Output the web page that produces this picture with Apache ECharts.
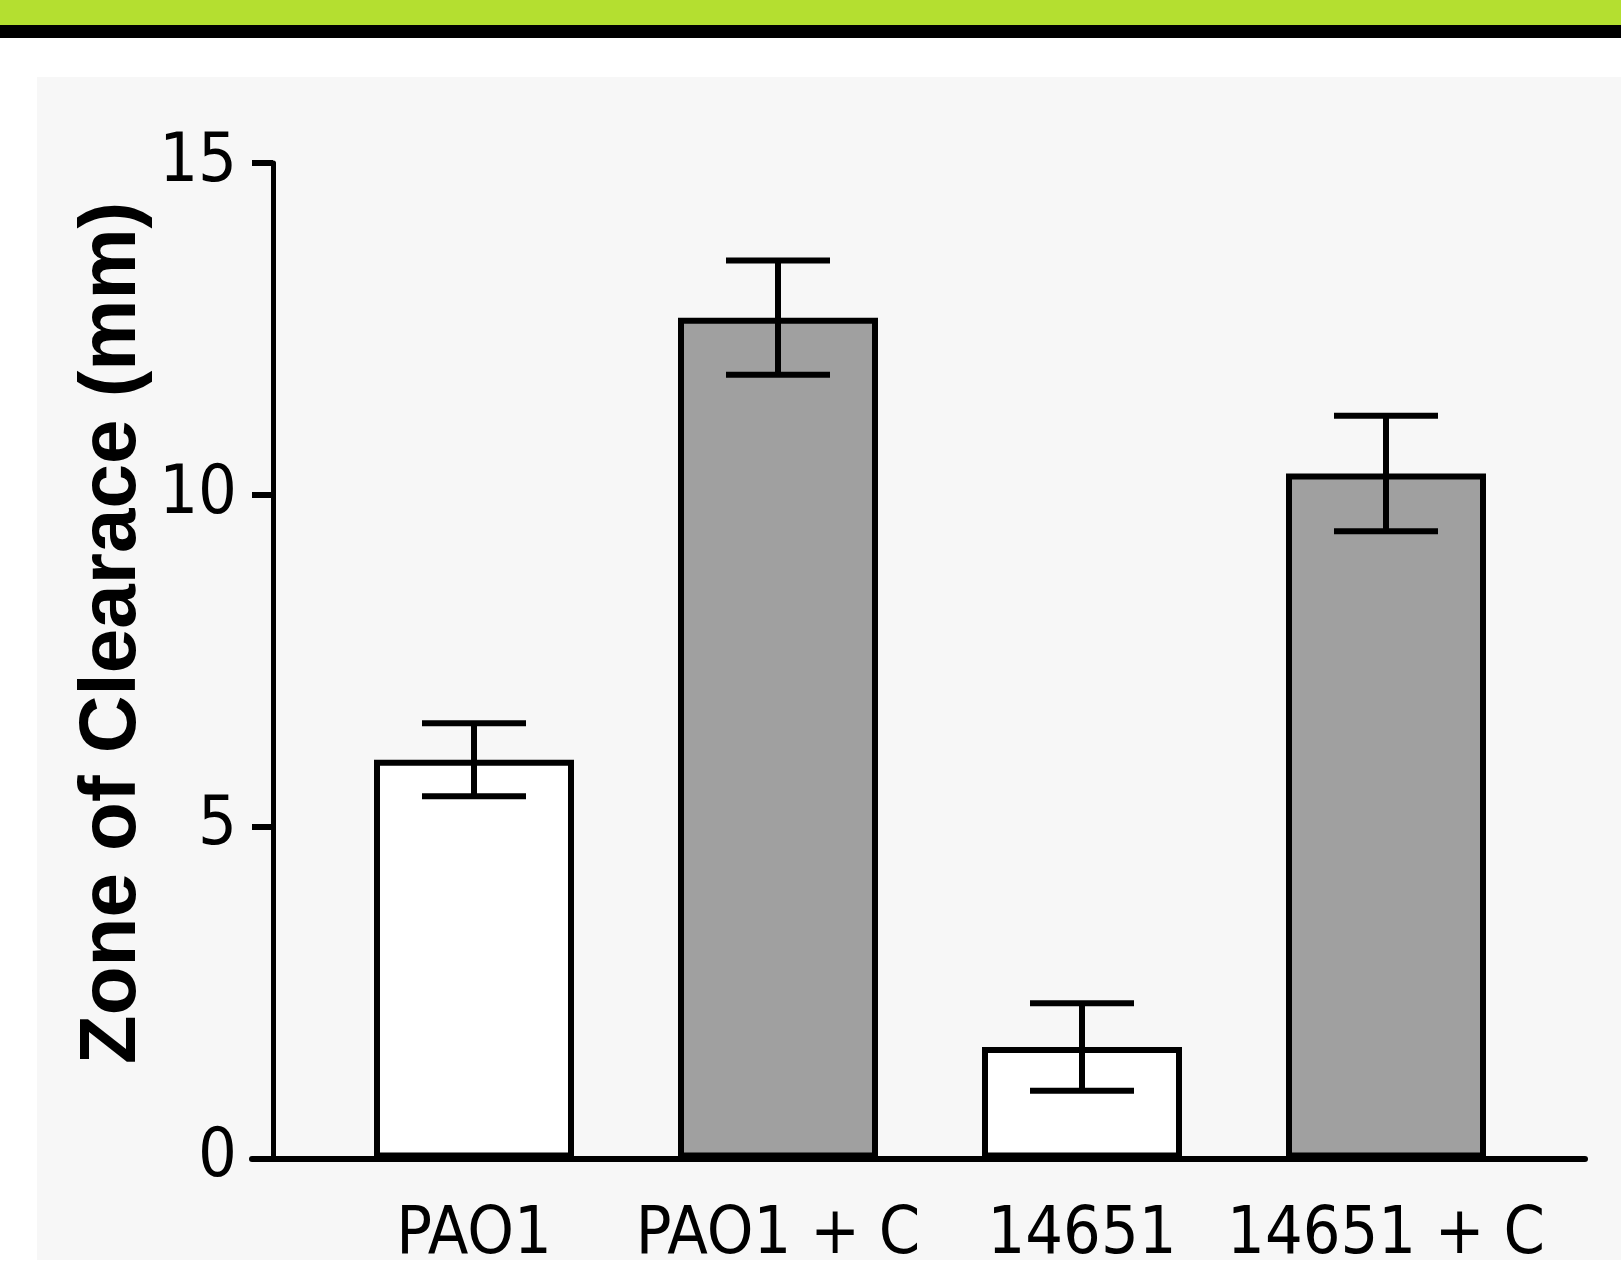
<!DOCTYPE html>
<html>
<head>
<meta charset="utf-8">
<script src="https://cdn.jsdelivr.net/npm/echarts@6/dist/echarts.min.js"></script>
<style>
  html, body { margin: 0; padding: 0; background: #fff; }
  #chart { width: 1621px; height: 1267px; }
</style>
</head>
<body>
<div id="chart"></div>
<script>
// data
var categories = ['PAO1', 'PAO1 + C', '14651', '14651 + C'];
var means = [6.01, 12.67, 1.68, 10.32];
var errors = [0.55, 0.86, 0.66, 0.87];
var yTicks = [0, 5, 10, 15];

var labelFont = "'Liberation Sans Narrow', 'DejaVu Sans Condensed', 'Liberation Sans', sans-serif";

var chart = echarts.init(document.getElementById('chart'));

// strains with the "+ C" treatment are grey, the others white
function fillFor(name) {
  return name.indexOf('+ C') >= 0 ? '#a0a0a0' : '#ffffff';
}

var option = {
  backgroundColor: '#ffffff',
  animation: false,
  graphic: [
    { type: 'rect', z: -10, shape: { x: 0, y: 0, width: 1621, height: 25 }, style: { fill: '#b4df30' } },
    { type: 'rect', z: -10, shape: { x: 0, y: 25, width: 1621, height: 13 }, style: { fill: '#000' } },
    { type: 'rect', z: -10, shape: { x: 37, y: 77, width: 1584, height: 1183 }, style: { fill: '#f7f7f7' } },
    {
      type: 'text',
      x: 113, y: 633,
      rotation: Math.PI / 2,
      style: {
        text: 'Zone of Clearace (mm)',
        fill: '#000',
        font: "bold 80px 'Liberation Sans', Arial, sans-serif",
        align: 'center',
        verticalAlign: 'middle'
      }
    }
  ],
  grid: [
    { left: 322, right: 83, top: 163, bottom: 108.5, outerBoundsMode: 'none', containLabel: false },
    { left: 252, right: 36, top: 163, bottom: 108.5, outerBoundsMode: 'none', containLabel: false }
  ],
  xAxis: [
    {
      gridIndex: 0,
      type: 'category',
      data: categories,
      axisLine: { show: false },
      axisTick: { show: false },
      axisLabel: {
        interval: 0,
        margin: 44,
        color: '#000',
        fontSize: 66,
        fontFamily: labelFont
      }
    },
    {
      gridIndex: 1,
      type: 'value',
      min: 0, max: 1,
      axisLine: { show: true, lineStyle: { color: '#000', width: 6 } },
      axisTick: { show: false },
      axisLabel: { show: false },
      splitLine: { show: false }
    }
  ],
  yAxis: [
    {
      gridIndex: 0,
      type: 'value',
      min: yTicks[0],
      max: yTicks[yTicks.length - 1],
      interval: 5,
      offset: 49,
      axisLine: { show: true, lineStyle: { color: '#000', width: 5 } },
      axisTick: { show: true, inside: false, length: 21, lineStyle: { color: '#000', width: 6 } },
      axisLabel: {
        margin: 36,
        color: '#000',
        fontSize: 68,
        fontFamily: labelFont
      },
      splitLine: { show: false }
    },
    {
      gridIndex: 1,
      type: 'value',
      min: 0, max: 15,
      show: false
    }
  ],
  series: [
    {
      type: 'bar',
      xAxisIndex: 0,
      yAxisIndex: 0,
      barWidth: 200,
      data: means.map(function (v, i) {
        return {
          value: v,
          itemStyle: { color: fillFor(categories[i]), borderColor: '#000', borderWidth: 6 }
        };
      })
    },
    {
      type: 'custom',
      xAxisIndex: 0,
      yAxisIndex: 0,
      z: 5,
      data: means.map(function (v, i) { return [i, v - errors[i], v + errors[i]]; }),
      renderItem: function (params, api) {
        var lo = api.coord([api.value(0), api.value(1)]);
        var hi = api.coord([api.value(0), api.value(2)]);
        var half = 52;
        var st = { stroke: '#000', lineWidth: 6 };
        return {
          type: 'group',
          children: [
            { type: 'line', shape: { x1: lo[0], y1: lo[1], x2: hi[0], y2: hi[1] }, style: st },
            { type: 'line', shape: { x1: hi[0] - half, y1: hi[1], x2: hi[0] + half, y2: hi[1] }, style: st },
            { type: 'line', shape: { x1: lo[0] - half, y1: lo[1], x2: lo[0] + half, y2: lo[1] }, style: st }
          ]
        };
      }
    }
  ]
};

chart.setOption(option);
</script>
</body>
</html>
